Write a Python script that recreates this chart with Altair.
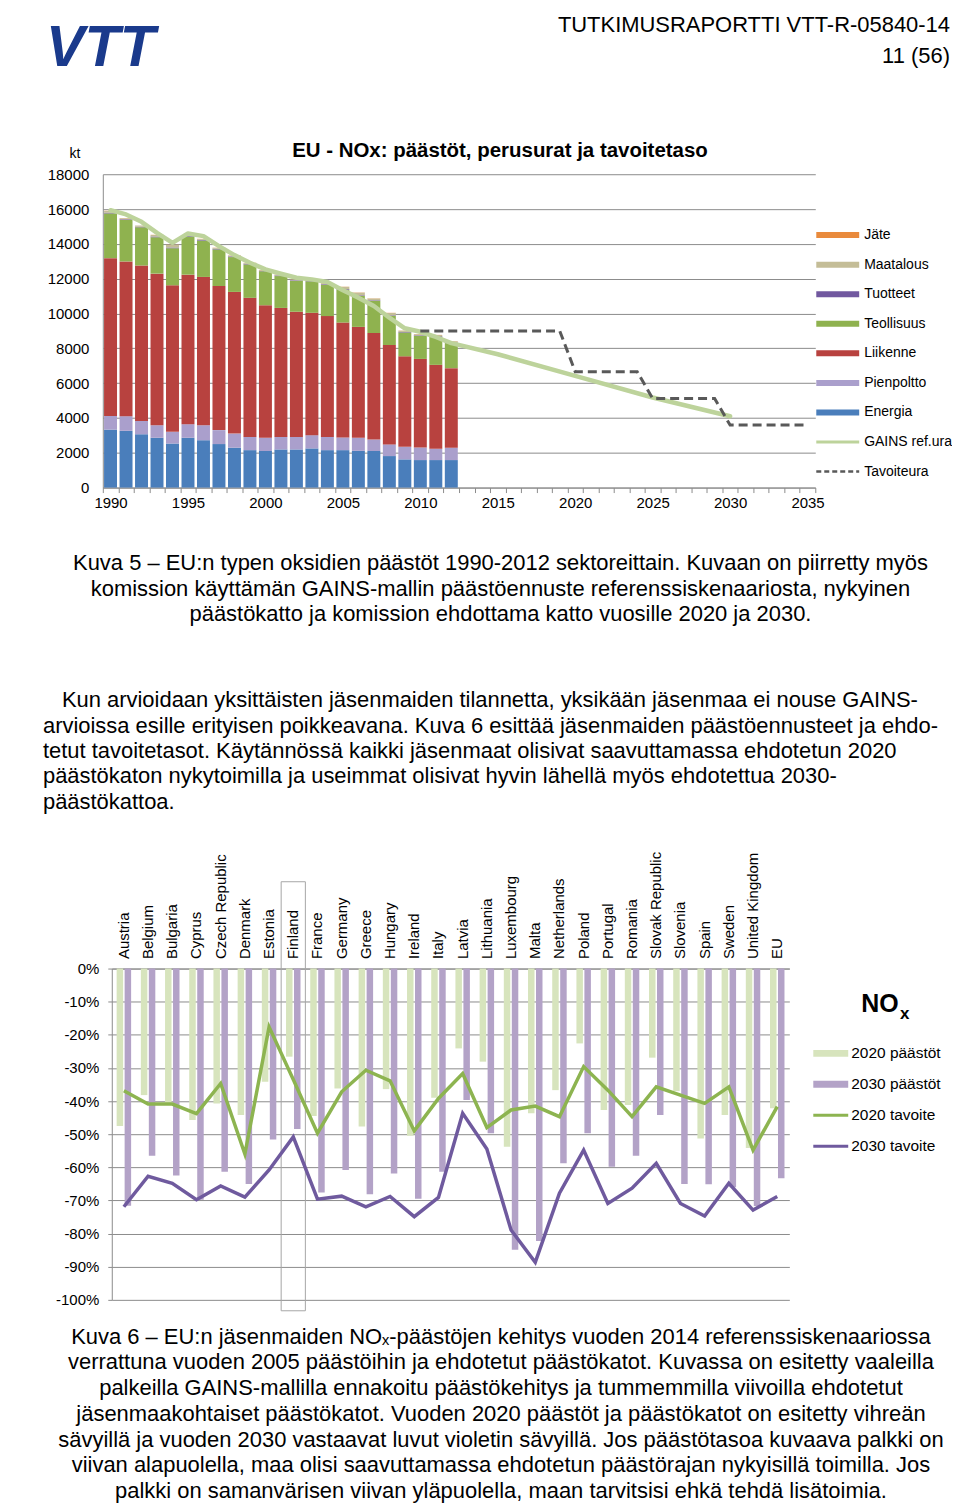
import altair as alt
import pandas as pd

FONT = "Liberation Sans"
GRID = "#8c8c8c"

# ---------------- Chart 1 data (kt) ----------------
years = [1990, 1991, 1992, 1993, 1994, 1995, 1996, 1997, 1998, 1999, 2000, 2001,
         2002, 2003, 2004, 2005, 2006, 2007, 2008, 2009, 2010, 2011, 2012]
energia = [3330, 3260, 3070, 2860, 2530, 2860, 2720, 2500, 2290, 2150, 2100, 2190,
           2190, 2250, 2150, 2150, 2110, 2100, 1810, 1620, 1580, 1580, 1580]
pienpoltto = [780, 840, 760, 720, 670, 780, 860, 800, 810, 760, 760, 720,
              720, 760, 760, 730, 750, 660, 670, 720, 720, 650, 710]
liikenne = [9070, 8890, 8930, 8710, 8420, 8590, 8520, 8280, 8140, 7990, 7620, 7410,
            7190, 7030, 6940, 6600, 6370, 6120, 5710, 5200, 5090, 4820, 4570]
teollisuus = [2570, 2380, 2190, 2090, 2130, 2190, 2090, 2100, 2000, 1920, 1940, 1830,
              1770, 1810, 1800, 1890, 1780, 1840, 1680, 1370, 1330, 1620, 1440]
tuotteet = [40, 40, 40, 40, 40, 40, 40, 40, 40, 35, 35, 35,
            35, 35, 35, 35, 35, 35, 30, 30, 30, 30, 30]
maatalous = [100, 60, 60, 90, 150, 40, 50, 50, 50, 45, 35, 45,
             35, 35, 55, 125, 155, 105, 130, 70, 60, 60, 70]
jate = [10, 10, 10, 10, 10, 10, 10, 10, 10, 10, 10, 10,
        10, 10, 10, 10, 10, 10, 10, 10, 10, 10, 10]

series1 = ["Energia", "Pienpoltto", "Liikenne", "Teollisuus", "Tuotteet", "Maatalous", "Jäte"]
colors1 = ["#4a7ebb", "#aa9fcc", "#b8423f", "#8fb24f", "#71589f", "#c4bd97", "#e98a3c"]

gains_years = [1990, 1991, 1992, 1993, 1994, 1995, 1996, 1997, 1998, 1999, 2000, 2001,
               2002, 2003, 2004, 2005, 2006, 2007, 2008, 2009, 2010, 2011, 2012,
               2015, 2020, 2025, 2030]
gains = [15935, 15690, 15265, 14635, 14060, 14600, 14445, 13870, 13355, 12915, 12535, 12285,
         12055, 11960, 11810, 11330, 10910, 10430, 9760, 9150, 8950, 8650, 8300,
         7660, 6420, 5175, 4100]

tavoite_years = [2010, 2011, 2012, 2013, 2014, 2015, 2016, 2017, 2018, 2019,
                 2020, 2021, 2022, 2023, 2024, 2025, 2026, 2027, 2028, 2029,
                 2030, 2031, 2032, 2033, 2034, 2035]
tavoite = [9000, 9000, 9000, 9000, 9000, 9000, 9000, 9000, 9000, 9000,
           6660, 6660, 6660, 6660, 6660, 5120, 5120, 5120, 5120, 5120,
           3590, 3590, 3590, 3590, 3590, 3590]

y1_ticks = [0, 2000, 4000, 6000, 8000, 10000, 12000, 14000, 16000, 18000]
x1_ticks = [1989.5 + i for i in range(47)]

legend1_items = ["Jäte", "Maatalous", "Tuotteet", "Teollisuus", "Liikenne",
                 "Pienpoltto", "Energia", "GAINS ref.ura", "Tavoiteura"]
legend1_colors = ["#e98a3c", "#c4bd97", "#71589f", "#8fb24f", "#b8423f",
                  "#aa9fcc", "#4a7ebb", "#bdd39b", "#595959"]
legend1_kind = ["bar", "bar", "bar", "bar", "bar", "bar", "bar", "line", "dash"]

# ---------------- Chart 2 data (%) ----------------
countries = ["Austria", "Belgium", "Bulgaria", "Cyprus", "Czech Republic", "Denmark",
             "Estonia", "Finland", "France", "Germany", "Greece", "Hungary", "Ireland",
             "Italy", "Latvia", "Lithuania", "Luxembourg", "Malta", "Netherlands",
             "Poland", "Portugal", "Romania", "Slovak Republic", "Slovenia", "Spain",
             "Sweden", "United Kingdom", "EU"]
paastot_2020 = [-47.5, -38.2, -40.5, -45.7, -40.7, -44.2, -34.2, -26.6, -44.5, -36.2,
                -47.7, -36.4, -50.5, -39.0, -24.1, -28.1, -53.8, -43.7, -36.7, -22.6,
                -42.7, -41.2, -26.9, -37.0, -51.3, -44.2, -54.2, -42.2]
paastot_2030 = [-71.6, -56.5, -62.5, -69.8, -61.3, -65.0, -51.6, -48.4, -67.6, -60.8,
                -68.1, -61.9, -69.5, -61.3, -39.7, -49.7, -84.9, -82.2, -58.8, -49.7,
                -59.8, -56.5, -44.2, -65.0, -65.1, -66.0, -71.7, -63.3]
tavoite_2020 = [-36.9, -40.9, -40.9, -43.8, -34.7, -56.0, -17.6, -33.5, -49.7, -37.2,
                -30.7, -33.9, -49.0, -39.2, -31.7, -48.0, -42.7, -41.5, -44.7, -29.6,
                -36.7, -44.7, -35.7, -38.2, -40.7, -35.7, -54.8, -41.7]
tavoite_2030 = [-71.9, -62.7, -64.8, -69.8, -65.6, -69.0, -60.8, -50.8, -69.6, -68.7,
                -71.9, -68.8, -74.9, -69.1, -43.7, -54.5, -78.9, -88.7, -67.8, -54.8,
                -70.9, -66.3, -58.8, -70.9, -74.7, -64.8, -72.9, -68.8]
series2 = ["2020 päästöt", "2030 päästöt", "2020 tavoite", "2030 tavoite"]
colors2 = ["#d7e4bd", "#b3a2c7", "#8db450", "#6f5a9e"]
y2_ticks = [0, -10, -20, -30, -40, -50, -60, -70, -80, -90, -100]
highlight = {"country": "Finland", "top": 26.2, "bottom": -103.3}

# ---------------- Texts ----------------
header_title = "TUTKIMUSRAPORTTI VTT-R-05840-14"
header_page = "11 (56)"
chart1_title = "EU - NOx: päästöt, perusurat ja tavoitetaso"
caption1 = ["Kuva 5 – EU:n typen oksidien päästöt 1990-2012 sektoreittain. Kuvaan on piirretty myös",
            "komission käyttämän GAINS-mallin päästöennuste referenssiskenaariosta, nykyinen",
            "päästökatto ja komission ehdottama katto vuosille 2020 ja 2030."]
para_first = "Kun arvioidaan yksittäisten jäsenmaiden tilannetta, yksikään jäsenmaa ei nouse GAINS-"
para_rest = ["arvioissa esille erityisen poikkeavana. Kuva 6 esittää jäsenmaiden päästöennusteet ja ehdo-",
             "tetut tavoitetasot. Käytännössä kaikki jäsenmaat olisivat saavuttamassa ehdotetun 2020",
             "päästökaton nykytoimilla ja useimmat olisivat hyvin lähellä myös ehdotettua 2030-",
             "päästökattoa."]
caption2 = ["Kuva 6 – EU:n jäsenmaiden NOₓ-päästöjen kehitys vuoden 2014 referenssiskenaariossa",
            "verrattuna vuoden 2005 päästöihin ja ehdotetut päästökatot. Kuvassa on esitetty vaaleilla",
            "palkeilla GAINS-mallilla ennakoitu päästökehitys ja tummemmilla viivoilla ehdotetut",
            "jäsenmaakohtaiset päästökatot. Vuoden 2020 päästöt ja päästökatot on esitetty vihreän",
            "sävyillä ja vuoden 2030 vastaavat luvut violetin sävyillä. Jos päästötasoa kuvaava palkki on",
            "viivan alapuolella, maa olisi saavuttamassa ehdotetun päästörajan nykyisillä toimilla. Jos",
            "palkki on samanvärisen viivan yläpuolella, maan tarvitsisi ehkä tehdä lisätoimia."]

ONE = pd.DataFrame({"k": [0]})
W = 944


def txt(text, x, y, size, align="left", weight="normal", style="normal",
        color="#000000", line_height=None):
    kw = dict(align=align, baseline="alphabetic", fontSize=size, fontWeight=weight,
              fontStyle=style, font=FONT, color=color)
    if line_height:
        kw["lineHeight"] = line_height
    return alt.Chart(ONE).mark_text(**kw).encode(
        x=alt.value(x), y=alt.value(y), text=alt.value(text))


# ---------------- Row 1: header + chart 1 title ----------------
row1 = alt.layer(
    txt("VTT", 38, 57, 58, weight="bold", style="italic", color="#1a3a8c"),
    txt(header_title, 944, 22, 22, align="right"),
    txt(header_page, 944, 54, 22, align="right"),
    txt(chart1_title, 493, 148, 20.5, align="center", weight="bold"),
    txt("kt", 67, 149, 14, align="center"),
).properties(width=W, height=165)

# ---------------- Row 2: chart 1 + legend ----------------
rows = []
for i, (name, vals) in enumerate(zip(series1, [energia, pienpoltto, liikenne, teollisuus,
                                                tuotteet, maatalous, jate])):
    for yr, v in zip(years, vals):
        rows.append({"year": yr, "series": name, "value": v, "order": i})
df1 = pd.DataFrame(rows)
df_gains = pd.DataFrame({"year": gains_years, "value": gains})
df_tav = pd.DataFrame({"year": tavoite_years, "value": tavoite})

X1_LEFT, X1_RIGHT = 95, 809
x1_scale = alt.Scale(domain=[1989.5, 2035.5], range=[X1_LEFT, X1_RIGHT], nice=False,
                     zero=False, padding=0)
y1_scale = alt.Scale(domain=[0, 18000], nice=False)
x1_axis = alt.Axis(values=x1_ticks,
                   labelExpr="(datum.value + 0.5) % 5 == 0 ? '' + (datum.value + 0.5) : ''",
                   labelOffset=7.76, labelFlush=False, labelOverlap=False, tickSize=5,
                   tickColor=GRID, domainColor=GRID, grid=False, title=None,
                   labelFontSize=15, labelPadding=3, labelColor="#000000")
y1_axis = alt.Axis(values=y1_ticks, format="d", grid=True, gridColor=GRID, gridWidth=1,
                   domainColor=GRID, ticks=False, labelPadding=14, labelFontSize=15,
                   title=None, labelColor="#000000", offset=-X1_LEFT)

bars1 = alt.Chart(df1).mark_bar(size=13).encode(
    x=alt.X("year:Q", scale=x1_scale, axis=x1_axis),
    y=alt.Y("value:Q", stack="zero", scale=y1_scale, axis=y1_axis),
    color=alt.Color("series:N", scale=alt.Scale(domain=series1, range=colors1), legend=None),
    order=alt.Order("order:Q", sort="ascending"),
)
gains_line = alt.Chart(df_gains).mark_line(color="#bdd39b", strokeWidth=4.5,
                                           strokeCap="round", strokeJoin="round").encode(
    x=alt.X("year:Q", scale=x1_scale, axis=x1_axis),
    y=alt.Y("value:Q", scale=y1_scale, axis=None),
)
tav_line = alt.Chart(df_tav).mark_line(color="#595959", strokeWidth=3,
                                       strokeDash=[9, 5]).encode(
    x=alt.X("year:Q", scale=x1_scale, axis=x1_axis),
    y=alt.Y("value:Q", scale=y1_scale, axis=None),
)

df_leg1 = pd.DataFrame({"item": legend1_items, "kind": legend1_kind})
leg1_y = alt.Y("item:N", sort=legend1_items,
               scale=alt.Scale(type="point", domain=legend1_items, range=[61, 298], padding=0),
               axis=None)
leg1_color = alt.Color("item:N", scale=alt.Scale(domain=legend1_items, range=legend1_colors),
                       legend=None)
L1 = 810
leg1_bar = alt.Chart(df_leg1).transform_filter("datum.kind == 'bar'").mark_rule(
    strokeWidth=6).encode(y=leg1_y, x=alt.value(L1), x2=alt.value(L1 + 43), color=leg1_color)
leg1_line = alt.Chart(df_leg1).transform_filter("datum.kind == 'line'").mark_rule(
    strokeWidth=3).encode(y=leg1_y, x=alt.value(L1), x2=alt.value(L1 + 43), color=leg1_color)
leg1_dash = alt.Chart(df_leg1).transform_filter("datum.kind == 'dash'").mark_rule(
    strokeWidth=2.5, strokeDash=[5, 3]).encode(
    y=leg1_y, x=alt.value(L1), x2=alt.value(L1 + 43), color=leg1_color)
leg1_text = alt.Chart(df_leg1).mark_text(align="left", baseline="middle", fontSize=14,
                                         font=FONT, color="#000000").encode(
    y=leg1_y, x=alt.value(L1 + 48), text="item:N")

row2 = alt.layer(bars1, gains_line, tav_line, leg1_bar, leg1_line, leg1_dash,
                 leg1_text).resolve_scale(y="independent", color="independent").properties(
    width=W, height=314)

# ---------------- Row 3: caption 1 + paragraph ----------------
row3 = alt.layer(
    txt(caption1, 493.5, 83, 22, align="center", line_height=25.5),
    txt(para_first, 54, 220, 22),
    txt(para_rest, 35, 245.5, 22, line_height=25.5),
).properties(width=W, height=482)

# ---------------- Row 4: chart 2 + legend ----------------
rows = []
for c, a, b in zip(countries, paastot_2020, paastot_2030):
    rows.append({"country": c, "series": "2020 päästöt", "value": a})
    rows.append({"country": c, "series": "2030 päästöt", "value": b})
df2b = pd.DataFrame(rows)
rows = []
for c, a, b in zip(countries, tavoite_2020, tavoite_2030):
    rows.append({"country": c, "series": "2020 tavoite", "value": a})
    rows.append({"country": c, "series": "2030 tavoite", "value": b})
df2l = pd.DataFrame(rows)
df_hl = pd.DataFrame([highlight])

X2_LEFT, X2_RIGHT = 104, 783
x2_scale = alt.Scale(domain=countries, range=[X2_LEFT, X2_RIGHT], paddingInner=0,
                     paddingOuter=0)
x2_axis = alt.Axis(orient="top", labelAngle=-90, labelAlign="left", labelBaseline="middle",
                   ticks=False, domainColor=GRID, title=None, labelFontSize=15,
                   labelPadding=10, labelColor="#000000", grid=False, labelOverlap=False)
y2_scale = alt.Scale(domain=[-100, 0], nice=False)
y2_axis = alt.Axis(values=y2_ticks, labelExpr="datum.value + '%'", grid=True, gridColor=GRID,
                   domainColor=GRID, tickColor=GRID, tickSize=4, labelPadding=9,
                   labelFontSize=15, title=None, labelColor="#000000", offset=-X2_LEFT)
color2 = alt.Color("series:N", scale=alt.Scale(domain=series2, range=colors2), legend=None)

bars2 = alt.Chart(df2b).mark_bar().encode(
    x=alt.X("country:N", sort=countries, scale=x2_scale, axis=x2_axis),
    xOffset=alt.XOffset("series:N", sort=series2[:2],
                        scale=alt.Scale(paddingInner=0.1875, paddingOuter=0.609)),
    y=alt.Y("value:Q", scale=y2_scale, axis=y2_axis),
    color=color2,
)
hl = alt.Chart(df_hl).mark_rect(fillOpacity=0, stroke="#a6a6a6", strokeWidth=1).encode(
    x=alt.X("country:N", sort=countries, scale=x2_scale, axis=x2_axis),
    y=alt.Y("top:Q", scale=y2_scale, axis=None),
    y2="bottom:Q",
)
lines2 = alt.Chart(df2l).mark_line(strokeWidth=3.5, strokeJoin="miter").encode(
    x=alt.X("country:N", sort=countries, scale=x2_scale, axis=x2_axis, bandPosition=0.5),
    y=alt.Y("value:Q", scale=y2_scale, axis=None),
    color=color2,
    detail="series:N",
)

df_leg2 = pd.DataFrame({"item": series2, "kind": ["bar", "bar", "line", "line"]})
leg2_y = alt.Y("item:N", sort=series2,
               scale=alt.Scale(type="point", domain=series2, range=[85, 178], padding=0),
               axis=None)
leg2_color = alt.Color("item:N", scale=alt.Scale(domain=series2, range=colors2), legend=None)
L2 = 807
leg2_bar = alt.Chart(df_leg2).transform_filter("datum.kind == 'bar'").mark_rule(
    strokeWidth=7).encode(y=leg2_y, x=alt.value(L2), x2=alt.value(L2 + 35), color=leg2_color)
leg2_line = alt.Chart(df_leg2).transform_filter("datum.kind == 'line'").mark_rule(
    strokeWidth=3).encode(y=leg2_y, x=alt.value(L2), x2=alt.value(L2 + 35), color=leg2_color)
leg2_text = alt.Chart(df_leg2).mark_text(align="left", baseline="middle", fontSize=15.5,
                                         font=FONT, color="#000000").encode(
    y=leg2_y, x=alt.value(L2 + 38), text="item:N")

row4 = alt.layer(bars2, hl, lines2, leg2_bar, leg2_line, leg2_text,
                 txt("NO", 855, 44, 25, weight="bold"),
                 txt("x", 894, 51, 17, weight="bold"),
                 ).resolve_scale(y="independent", color="independent").properties(
    width=W, height=332)

# ---------------- Row 5: caption 2 ----------------
row5 = alt.layer(
    txt(caption2, 494, 44, 22, align="center", line_height=25.8),
).properties(width=W, height=188)

chart = alt.vconcat(row1, row2, row3, row4, row5, spacing=0, bounds="flush").resolve_scale(
    color="independent").properties(padding=0).configure(
    font=FONT).configure_view(strokeWidth=0, stroke=None)

chart.save("out.html", embed_options={"renderer": "svg", "actions": False})
